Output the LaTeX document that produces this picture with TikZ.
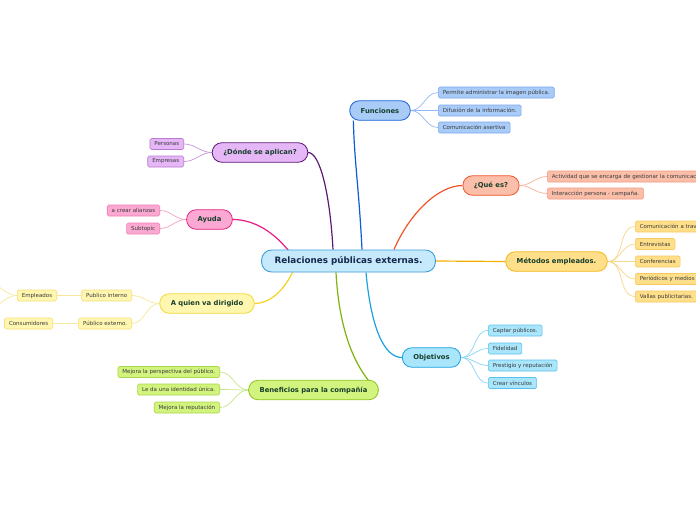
\documentclass[tikz,border=0pt]{standalone}
\usepackage{fontspec}
\setmainfont{DejaVu Sans}
\usetikzlibrary{backgrounds}
\definecolor{ctxt}{HTML}{14294C}
\definecolor{btxt}{HTML}{173F2C}
\definecolor{stxt}{HTML}{3A3A3A}
\definecolor{cfill}{HTML}{C6E9FB}\definecolor{cdraw}{HTML}{3E9ED8}
\definecolor{funF}{HTML}{A8CBF8}\definecolor{funD}{HTML}{1E64D8}\definecolor{funL}{HTML}{0B5CD6}\definecolor{funS}{HTML}{7EA8F0}\definecolor{funT}{HTML}{93B8F4}
\definecolor{donF}{HTML}{E6B7F7}\definecolor{donD}{HTML}{5D1874}\definecolor{donL}{HTML}{5D1874}\definecolor{donS}{HTML}{B77CD0}\definecolor{donT}{HTML}{C495D9}
\definecolor{ayuF}{HTML}{FBA9D2}\definecolor{ayuD}{HTML}{EA1F82}\definecolor{ayuL}{HTML}{EC1C84}\definecolor{ayuS}{HTML}{F07CB0}\definecolor{ayuT}{HTML}{F6A0C6}
\definecolor{quiF}{HTML}{FFF6B0}\definecolor{quiD}{HTML}{F2D93A}\definecolor{quiL}{HTML}{F4D320}\definecolor{quiS}{HTML}{F3E07A}\definecolor{quiT}{HTML}{F7E79A}
\definecolor{benF}{HTML}{D2F47E}\definecolor{benD}{HTML}{8EC31F}\definecolor{benL}{HTML}{7DB50A}\definecolor{benS}{HTML}{A9D64A}\definecolor{benT}{HTML}{C6E68A}
\definecolor{objF}{HTML}{A9E5FB}\definecolor{objD}{HTML}{1AA3E0}\definecolor{objL}{HTML}{1AA3E0}\definecolor{objS}{HTML}{5BC1EC}\definecolor{objT}{HTML}{8AD5F3}
\definecolor{queF}{HTML}{FBBEA9}\definecolor{queD}{HTML}{F0552B}\definecolor{queL}{HTML}{F0552B}\definecolor{queS}{HTML}{F39B80}\definecolor{queT}{HTML}{F6B19C}
\definecolor{metF}{HTML}{FFDF8A}\definecolor{metD}{HTML}{F6B817}\definecolor{metL}{HTML}{F5B000}\definecolor{metS}{HTML}{F5C860}\definecolor{metT}{HTML}{F8D68A}
\begin{document}
\begin{tikzpicture}[x=1pt,y=-1pt,
  central/.style={fill=cfill,draw=cdraw,line width=0.9pt,rounded corners=10pt,minimum height=22pt,inner xsep=13pt,inner ysep=0pt,font=\fontsize{8.8}{10}\bfseries,text=ctxt},
  br/.style 2 args={fill=#1,draw=#2,line width=0.8pt,rounded corners=9.5pt,minimum height=19.5pt,inner xsep=11pt,inner ysep=0pt,font=\fontsize{6.8}{8}\bfseries,text=btxt},
  sb/.style 2 args={fill=#1,draw=#2,line width=0.6pt,rounded corners=1.5pt,minimum height=11pt,inner xsep=4.5pt,inner ysep=0pt,font=\fontsize{5.5}{6}\selectfont,text=stxt},
  bl/.style={line width=1.2pt},
  sl/.style={line width=0.7pt}]
\useasboundingbox (0,0) rectangle (696,520);
\clip (0,0) rectangle (696,520);

% central
\node[central] (c) at (348.5,261) {Relaciones públicas externas.};

% Funciones
\node[br={funF}{funD}] (f) at (380,110.5) {Funciones};
\node[sb={funF}{funS},anchor=west] (f1) at (438,92.5) {Permite administrar la imagen pública.};
\node[sb={funF}{funS},anchor=west] (f2) at (438,110.5) {Difusión de la información.};
\node[sb={funF}{funS},anchor=west] (f3) at (438,127.5) {Comunicación asertiva};

% Donde
\node[br={donF}{donD}] (d) at (260,152.5) {¿Dónde se aplican?};
\node[sb={donF}{donS},anchor=east] (d1) at (184,144) {Personas};
\node[sb={donF}{donS},anchor=east] (d2) at (184,161.5) {Empresas};

% Ayuda
\node[br={ayuF}{ayuD}] (a) at (209.5,219.5) {Ayuda};
\node[sb={ayuF}{ayuS},anchor=east] (a1) at (160,210.5) {a crear alianzas};
\node[sb={ayuF}{ayuS},anchor=east] (a2) at (160,228.5) {Subtopic};

% Quien
\node[br={quiF}{quiD}] (q) at (207,303.5) {A quien va dirigido};
\node[sb={quiF}{quiS},anchor=east] (q1) at (132,295.5) {Publico interno};
\node[sb={quiF}{quiS},anchor=east] (q2) at (132,323.5) {Público externo.};
\node[sb={quiF}{quiS},anchor=east] (q11) at (57,295.5) {Empleados};
\node[sb={quiF}{quiS},anchor=east] (q21) at (53,323.5) {Consumidores};
\coordinate (qa) at (-14,282);
\coordinate (qb) at (-14,309);

% Beneficios
\node[br={benF}{benD}] (b) at (313.5,390) {Beneficios para la compañía};
\node[sb={benF}{benS},anchor=east] (b1) at (220,372) {Mejora la perspectiva del público.};
\node[sb={benF}{benS},anchor=east] (b2) at (220,389.5) {Le da una identidad única.};
\node[sb={benF}{benS},anchor=east] (b3) at (220,407.5) {Mejora la reputación};

% Objetivos
\node[br={objF}{objD}] (o) at (431.5,357.5) {Objetivos};
\node[sb={objF}{objS},anchor=west] (o1) at (488,330.5) {Captar públicos.};
\node[sb={objF}{objS},anchor=west] (o2) at (488,348.5) {Fidelidad};
\node[sb={objF}{objS},anchor=west] (o3) at (488,365.5) {Prestigio y reputación};
\node[sb={objF}{objS},anchor=west] (o4) at (488,383) {Crear vínculos};

% Que es
\node[br={queF}{queD}] (e) at (491,185.5) {¿Qué es?};
\node[sb={queF}{queS},anchor=west,text width=170pt,align=left] (e1) at (547,176.5) {Actividad que se encarga de gestionar la comunicaci};
\node[sb={queF}{queS},anchor=west] (e2) at (547,193.5) {Interacción persona - campaña.};

% Metodos
\node[br={metF}{metD}] (m) at (556.5,261.5) {Métodos empleados.};
\node[sb={metF}{metS},anchor=west,text width=80pt,align=left] (m1) at (635,226.5) {Comunicación a trav};
\node[sb={metF}{metS},anchor=west] (m2) at (635,244) {Entrevistas};
\node[sb={metF}{metS},anchor=west] (m3) at (635,261.5) {Conferencias};
\node[sb={metF}{metS},anchor=west,text width=80pt,align=left] (m4) at (635,279) {Periódicos y medios};
\node[sb={metF}{metS},anchor=west] (m5) at (635,296.5) {Vallas publicitarias.};

\begin{pgfonlayer}{background}
\fill[white] (0,0) rectangle (696,520);
% main branches
\draw[bl,funL] ([xshift=13.5pt]c.north) .. controls +(-3,-60) and +(1,40) .. ([xshift=4pt]f.south west);
\draw[bl,donL] ([xshift=-15.5pt]c.north) .. controls +(-3,-55) and +(12,0) .. (d.east);
\draw[bl,ayuL] ([xshift=-60pt,yshift=-1pt]c.north) .. controls +(-18,-22) and +(18,0) .. (a.east);
\draw[bl,quiL] ([xshift=-56pt]c.south) .. controls +(-10,20) and +(14,0) .. (q.east);
\draw[bl,benL] ([xshift=-12.5pt]c.south) .. controls +(3,55) and +(-16,-20) .. ([xshift=-10pt,yshift=-1pt]b.north east);
\draw[bl,objL] ([xshift=17.5pt]c.south) .. controls +(5,55) and +(-18,0) .. (o.west);
\draw[bl,queL] ([xshift=45.5pt]c.north) .. controls +(15,-35) and +(-25,0) .. (e.west);
\draw[bl,metL] (c.east) -- (m.west);

% sub links
\foreach \n in {f1,f2,f3} \draw[sl,funT] (f.east) to[out=0,in=180] (\n.west);
\foreach \n in {d1,d2} \draw[sl,donT] (d.west) to[out=180,in=0] (\n.east);
\foreach \n in {a1,a2} \draw[sl,ayuT] (a.west) to[out=180,in=0] (\n.east);
\foreach \n in {q1,q2} \draw[sl,quiT] (q.west) to[out=180,in=0] (\n.east);
\draw[sl,quiT] (q1.west) -- (q11.east);
\draw[sl,quiT] (q2.west) -- (q21.east);
\draw[sl,quiT] (q11.west) to[out=180,in=0] (qa);
\draw[sl,quiT] (q11.west) to[out=180,in=0] (qb);
\foreach \n in {b1,b2,b3} \draw[sl,benT] (b.west) to[out=180,in=0] (\n.east);
\foreach \n in {o1,o2,o3,o4} \draw[sl,objT] (o.east) to[out=0,in=180] (\n.west);
\foreach \n in {e1,e2} \draw[sl,queT] (e.east) to[out=0,in=180] (\n.west);
\foreach \n in {m1,m2,m3,m4,m5} \draw[sl,metT] (m.east) to[out=0,in=180] (\n.west);
\end{pgfonlayer}
\end{tikzpicture}
\end{document}
